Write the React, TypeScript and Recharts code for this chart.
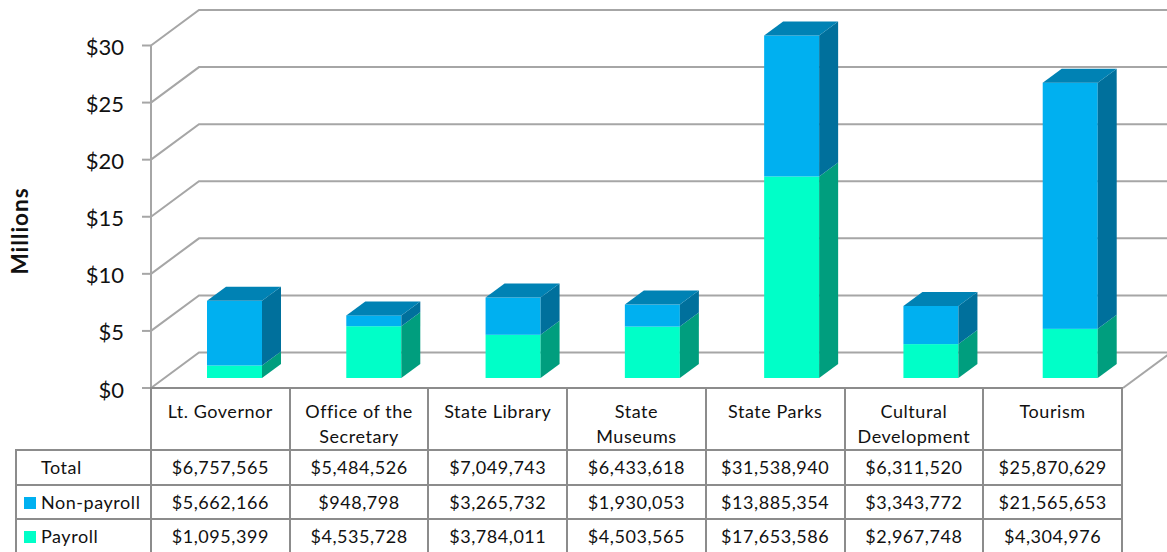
import { BarChart, Bar, XAxis, YAxis, CartesianGrid } from "recharts";

const categories = [
  ["Lt. Governor"],
  ["Office of the", "Secretary"],
  ["State Library"],
  ["State", "Museums"],
  ["State Parks"],
  ["Cultural", "Development"],
  ["Tourism"],
];
const totals = [6757565, 5484526, 7049743, 6433618, 31538940, 6311520, 25870629];
const nonPayroll = [5662166, 948798, 3265732, 1930053, 13885354, 3343772, 21565653];
const payroll = [1095399, 4535728, 3784011, 4503565, 17653586, 2967748, 4304976];
const yTicks = [0, 5000000, 10000000, 15000000, 20000000, 25000000, 30000000];

// axis stops at $30M, State Parks runs past it in the source chart too
const AXIS_MAX = 30000000;
const chartData = categories.map((c, i) => ({
  name: c.join(" "),
  payroll: payroll[i],
  nonPayroll: Math.min(nonPayroll[i], AXIS_MAX - payroll[i]),
}));

const GRID = "#a6a6a6";
const TABLE_LINE = "#8c8c8c";
const FONT = "Lato, 'Open Sans', sans-serif";
const NONPAY = { front: "#00b0f0", side: "#00709c", top: "#0082b4" };
const PAY = { front: "#00ffc8", side: "#009e7e", top: "#009e7e" };
const DX = 19;
const DY = 14;

const money = (v: number) => "$" + v.toLocaleString("en-US");

function box3d(colors: typeof NONPAY, withTop: boolean) {
  return (props: any) => {
    const { x, y, width, height } = props;
    const r = x + width;
    const b = y + height;
    return (
      <g>
        <rect x={x} y={y} width={width} height={height} fill={colors.front} />
        <path
          d={`M${r},${y} L${r + DX},${y - DY} L${r + DX},${b - DY} L${r},${b} Z`}
          fill={colors.side}
        />
        {withTop && (
          <path
            d={`M${x},${y} L${x + DX},${y - DY} L${r + DX},${y - DY} L${r},${y} Z`}
            fill={colors.top}
          />
        )}
      </g>
    );
  };
}

// wall + floor lines for one tick, y1 comes from the axis scale
function GridLine(props: any) {
  const front = props.y1 + 10;
  const back = front - 35.5;
  return (
    <g key={props.key}>
      <path d={`M151,${front} L199,${back} L1167,${back}`} fill="none" stroke={GRID} strokeWidth={2} />
      {front > 380 && <path d="M1123,388 L1171,352.5" stroke={GRID} strokeWidth={2} />}
    </g>
  );
}

function YTick(props: any) {
  const { y, payload } = props;
  const cy = y + 10;
  return (
    <g>
      <line x1={142} x2={151} y1={cy} y2={cy} stroke={GRID} strokeWidth={2} />
      <text x={124} y={cy + 1} textAnchor="end" dominantBaseline="central" fontSize={22} fontFamily={FONT} fill="#111">
        {"$" + payload.value / 1000000}
      </text>
    </g>
  );
}

function DataTable() {
  const border = `2px solid ${TABLE_LINE}`;
  const cell: React.CSSProperties = { border, padding: 0, textAlign: "center", height: 32.6 };
  const rows = [
    { label: "Total", color: null, values: totals },
    { label: "Non-payroll", color: NONPAY.front, values: nonPayroll },
    { label: "Payroll", color: PAY.front, values: payroll },
  ];
  return (
    <table
      style={{
        position: "absolute",
        left: 15,
        top: 387,
        width: 1108,
        tableLayout: "fixed",
        borderCollapse: "collapse",
        fontFamily: FONT,
        fontSize: 18,
        letterSpacing: 0.55,
        color: "#111",
      }}
    >
      <colgroup>
        <col style={{ width: 135 }} />
        {categories.map((c) => (
          <col key={c.join()} />
        ))}
      </colgroup>
      <tbody>
        <tr>
          <td style={{ padding: 0 }} />
          {categories.map((c) => (
            <td key={c.join()} style={{ ...cell, verticalAlign: "top", paddingTop: 10, lineHeight: "25px", height: 49 }}>
              {c.map((line) => (
                <div key={line}>{line}</div>
              ))}
            </td>
          ))}
        </tr>
        {rows.map((row) => (
          <tr key={row.label}>
            <td style={{ ...cell, textAlign: "left", whiteSpace: "nowrap", position: "relative", paddingLeft: 24 }}>
              {row.color && (
                <span
                  style={{ position: "absolute", left: 7, top: 11, width: 12, height: 12, background: row.color }}
                />
              )}
              {row.label}
            </td>
            {row.values.map((v) => (
              <td key={v} style={cell}>
                {money(v)}
              </td>
            ))}
          </tr>
        ))}
      </tbody>
    </table>
  );
}

export default function App() {
  return (
    <div style={{ position: "absolute", left: 0, top: 0, width: 1167, height: 552, overflow: "hidden", background: "#fff" }}>
      <BarChart
        width={1167}
        height={552}
        data={chartData}
        margin={{ left: 141, right: 45, top: 45.5, bottom: 164 }}
        barSize={55}
      >
        <CartesianGrid vertical={false} horizontal={GridLine} syncWithTicks />
        <XAxis dataKey="name" hide padding={{ left: 14, right: -18 }} />
        <YAxis
          width={10}
          domain={[0, AXIS_MAX]}
          ticks={yTicks}
          interval={0}
          padding={{ top: -10, bottom: 10 }}
          tickLine={false}
          axisLine={{ stroke: GRID, strokeWidth: 2 }}
          tick={YTick}
        />
        <Bar dataKey="payroll" stackId="a" isAnimationActive={false} shape={box3d(PAY, false)} />
        <Bar dataKey="nonPayroll" stackId="a" isAnimationActive={false} shape={box3d(NONPAY, true)} />
      </BarChart>
      <DataTable />
      <div
        style={{
          position: "absolute",
          left: 19,
          top: 231,
          transform: "translate(-50%, -50%) rotate(-90deg)",
          fontFamily: FONT,
          fontWeight: 700,
          fontSize: 22.5,
          letterSpacing: 1,
          color: "#111",
        }}
      >
        Millions
      </div>
    </div>
  );
}
